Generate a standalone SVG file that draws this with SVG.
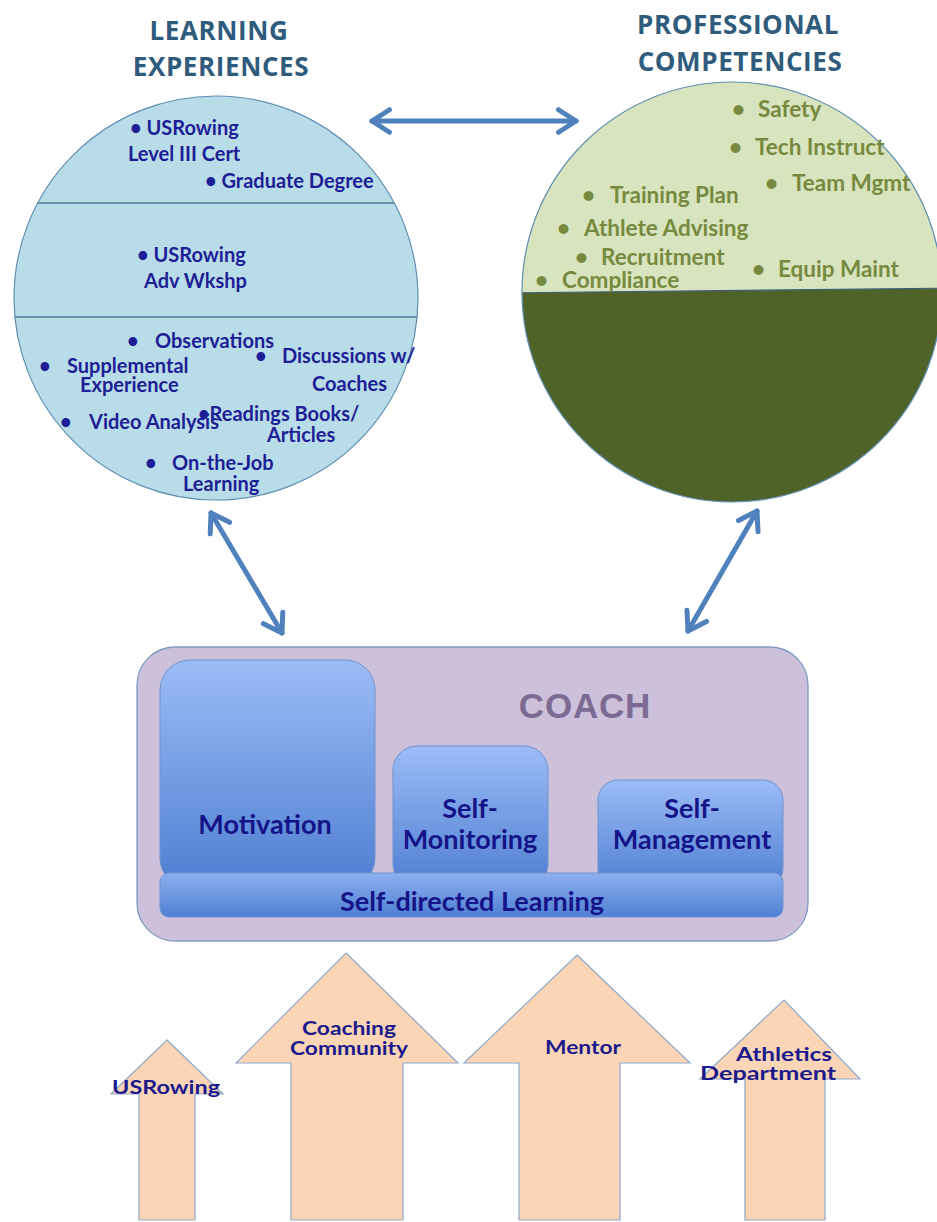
<svg xmlns="http://www.w3.org/2000/svg" width="937" height="1222" viewBox="0 0 937 1222">
<style>
.title{font-family:"Open Sans","Liberation Sans",sans-serif;font-weight:bold;font-size:26px;letter-spacing:0.6px;fill:#2F5B7C;text-anchor:middle}
.lt{font-family:Lato,"Liberation Sans",sans-serif;font-weight:bold;font-size:20px;fill:#1E1E96}
.rt{font-family:Lato,"Liberation Sans",sans-serif;font-weight:bold;font-size:22.5px;fill:#77893F}
.bx{font-family:Lato,"Liberation Sans",sans-serif;font-weight:bold;font-size:27px;fill:#141488;text-anchor:middle}
.ar{font-family:Lato,"Liberation Sans",sans-serif;font-weight:bold;font-size:19px;fill:#1A1A8C;text-anchor:middle}
.conn{stroke:#4F81BD;stroke-width:5;fill:none;stroke-linecap:round;marker-start:url(#chev);marker-end:url(#chev)}
.peach{fill:#FBD5B5;stroke:#8EA9C8;stroke-width:1.2}
.blue{fill:url(#bg);stroke:#6F93CF;stroke-width:1}
</style>
<defs>
<marker id="chev" viewBox="0 0 12 12" refX="10" refY="6" markerWidth="6" markerHeight="6" markerUnits="strokeWidth" orient="auto-start-reverse">
<path d="M3,1.5 L10,6 L3,10.5" fill="none" stroke="#4F81BD" stroke-width="2" stroke-linecap="round" stroke-linejoin="round"/>
</marker>
<linearGradient id="bg" x1="0" y1="0" x2="0" y2="1">
<stop offset="0" stop-color="#9CBCF6"/>
<stop offset="1" stop-color="#4E7ED2"/>
</linearGradient>
<linearGradient id="bar" x1="0" y1="0" x2="0" y2="1">
<stop offset="0" stop-color="#8DB0F0"/>
<stop offset="1" stop-color="#4F7FD3"/>
</linearGradient>
<clipPath id="lc"><circle cx="216" cy="298" r="202"/></clipPath>
<clipPath id="rc"><circle cx="732" cy="292" r="210"/></clipPath>
</defs>
<rect width="937" height="1222" fill="#FFFFFF"/>

<g id="learning-experiences">
<text class="title" x="219" y="40">LEARNING</text>
<text class="title" x="221" y="76">EXPERIENCES</text>
<circle cx="216" cy="298" r="202" fill="#B8DCE8"/>
<g clip-path="url(#lc)" stroke="#4C7C9C" stroke-width="1.5">
<line x1="0" y1="203" x2="440" y2="203"/>
<line x1="0" y1="317" x2="440" y2="317"/>
</g>
<circle cx="216" cy="298" r="202" fill="none" stroke="#5E8FB3" stroke-width="1.2"/>
<text class="lt" x="130" y="135">• USRowing</text>
<text class="lt" x="128" y="161">Level III Cert</text>
<text class="lt" x="205" y="188">• Graduate Degree</text>
<text class="lt" x="137" y="262">• USRowing</text>
<text class="lt" x="144" y="288">Adv Wkshp</text>
<text class="lt" x="127" y="348">•</text><text class="lt" x="155" y="348">Observations</text>
<text class="lt" x="255" y="363">•</text><text class="lt" x="282" y="363">Discussions w/</text>
<text class="lt" x="312" y="391">Coaches</text>
<text class="lt" x="39" y="373">•</text><text class="lt" x="67" y="373">Supplemental</text>
<text class="lt" x="80" y="392">Experience</text>
<text class="lt" x="60" y="429">•</text><text class="lt" x="89" y="429">Video Analysis</text>
<text class="lt" x="198" y="421">•Readings Books/</text>
<text class="lt" x="267" y="442">Articles</text>
<text class="lt" x="145" y="470">•</text><text class="lt" x="172" y="470">On-the-Job</text>
<text class="lt" x="183" y="491">Learning</text>
</g>

<g id="professional-competencies">
<text class="title" x="738" y="34">PROFESSIONAL</text>
<text class="title" x="740" y="71">COMPETENCIES</text>
<g clip-path="url(#rc)">
<rect x="500" y="70" width="460" height="450" fill="#D7E4BD"/>
<polygon points="500,293 960,288 960,520 500,520" fill="#4F6228"/>
<line x1="500" y1="293" x2="960" y2="288" stroke="#3F5E80" stroke-width="1.2"/>
</g>
<circle cx="732" cy="292" r="210" fill="none" stroke="#5E8FB3" stroke-width="1.2"/>
<text class="rt" x="732" y="117">•</text><text class="rt" x="758" y="117">Safety</text>
<text class="rt" x="729" y="155">•</text><text class="rt" x="755" y="155">Tech Instruct</text>
<text class="rt" x="765" y="191">•</text><text class="rt" x="792" y="191">Team Mgmt</text>
<text class="rt" x="582" y="203">•</text><text class="rt" x="610" y="203">Training Plan</text>
<text class="rt" x="557" y="236">•</text><text class="rt" x="584" y="236">Athlete Advising</text>
<text class="rt" x="575" y="265">•</text><text class="rt" x="601" y="265">Recruitment</text>
<text class="rt" x="535" y="288">•</text><text class="rt" x="562" y="288">Compliance</text>
<text class="rt" x="752" y="277">•</text><text class="rt" x="778" y="277">Equip Maint</text>
</g>

<g id="connectors">
<line class="conn" x1="372" y1="121" x2="576" y2="121"/>
<line class="conn" x1="211" y1="513" x2="282" y2="633"/>
<line class="conn" x1="757" y1="511" x2="688" y2="631"/>
</g>

<g id="coach">
<rect x="137" y="647" width="671" height="294" rx="38" fill="#CCC0DA" stroke="#7F9CC0" stroke-width="1.3"/>
<text x="585" y="718" font-family="Liberation Sans, Arial, sans-serif" font-weight="bold" font-size="35" letter-spacing="0.8" fill="#7D6A93" text-anchor="middle">COACH</text>
</g>
<g id="motivation">
<rect class="blue" x="160" y="660" width="215" height="228" rx="30"/>
<text class="bx" x="265" y="834">Motivation</text>
</g>
<g id="self-monitoring">
<rect class="blue" x="393" y="746" width="155" height="142" rx="24"/>
<text class="bx" x="470" y="818">Self-</text>
<text class="bx" x="470" y="849">Monitoring</text>
</g>
<g id="self-management">
<rect class="blue" x="598" y="780" width="185" height="108" rx="20"/>
<text class="bx" x="692" y="818">Self-</text>
<text class="bx" x="692" y="849">Management</text>
</g>
<g id="self-directed-learning">
<rect x="160" y="873" width="623" height="44" rx="9" fill="url(#bar)" stroke="#6F93CF" stroke-width="1"/>
<text class="bx" x="472" y="911" font-size="34">Self-directed Learning</text>
</g>

<g id="usrowing">
<polygon class="peach" points="167,1040 223,1094 195,1094 195,1220 139,1220 139,1094 111,1094"/>
<text class="ar" x="166" y="1094" textLength="108" lengthAdjust="spacingAndGlyphs">USRowing</text>
</g>
<g id="coaching-community">
<polygon class="peach" points="346,953 458,1063 403,1063 403,1220 291,1220 291,1063 236,1063"/>
<text class="ar" x="349" y="1035" textLength="94" lengthAdjust="spacingAndGlyphs">Coaching</text>
<text class="ar" x="349" y="1055" textLength="118" lengthAdjust="spacingAndGlyphs">Community</text>
</g>
<g id="mentor">
<polygon class="peach" points="577,955 690,1063 620,1063 620,1220 519,1220 519,1063 464,1063"/>
<text class="ar" x="583" y="1054" textLength="76" lengthAdjust="spacingAndGlyphs">Mentor</text>
</g>
<g id="athletics-department">
<polygon class="peach" points="784,1000 860,1079 825,1079 825,1220 745,1220 745,1079 700,1079"/>
<text class="ar" x="784" y="1061" textLength="96" lengthAdjust="spacingAndGlyphs">Athletics</text>
<text class="ar" x="768" y="1080" textLength="136" lengthAdjust="spacingAndGlyphs">Department</text>
</g>
</svg>
